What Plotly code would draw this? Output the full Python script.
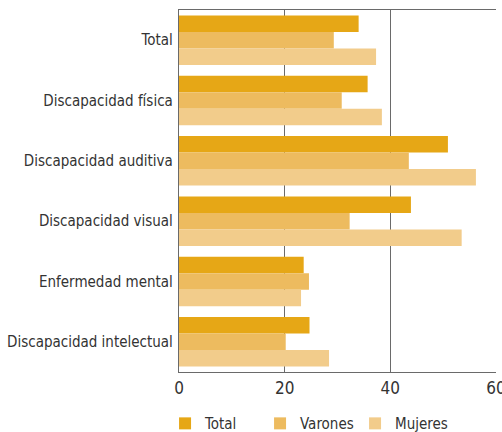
import plotly.graph_objects as go

categories = ["Total", "Discapacidad física", "Discapacidad auditiva",
              "Discapacidad visual", "Enfermedad mental", "Discapacidad intelectual"]
total = [34.0, 35.7, 50.9, 43.9, 23.6, 24.7]
varones = [29.3, 30.8, 43.5, 32.3, 24.6, 20.2]
mujeres = [37.3, 38.4, 56.2, 53.5, 23.1, 28.4]
x_ticks = [0, 20, 40, 60]

FONT = "DejaVu Sans Condensed, Roboto, sans-serif"
series = [("Total", total, "#E6A716"), ("Varones", varones, "#EDBB5F"), ("Mujeres", mujeres, "#F2CC8B")]

fig = go.Figure()
for name, vals, col in series:
    fig.add_trace(go.Bar(y=categories, x=vals, name=name, orientation="h",
                         marker=dict(color=col, line=dict(width=0))))

fig.update_layout(
    width=502, height=432,
    margin=dict(l=179, r=6, t=10, b=60, autoexpand=False),
    barmode="group", bargap=0.18, bargroupgap=0,
    plot_bgcolor="white", paper_bgcolor="white",
    font=dict(family=FONT, size=15, color="#333333"),
    showlegend=True,
    legend=dict(orientation="h", x=-0.044, y=-0.097, xanchor="left", yanchor="top",
                entrywidth=50, font=dict(size=15)),
    xaxis=dict(range=[0, 60], tickvals=x_ticks, showgrid=True, gridcolor="#6a6a6a", gridwidth=1.3,
               showline=True, linecolor="#6a6a6a", linewidth=1.3, mirror=True,
               zeroline=False, ticks="", ticklen=0, automargin=False,
               ticklabeloverflow="allow", tickfont=dict(size=17)),
    yaxis=dict(autorange="reversed", showline=True, linecolor="#6a6a6a", linewidth=1.3,
               ticks="", ticklabelstandoff=2, showgrid=False, automargin=False),
)

fig.write_html("out.html", config={"displayModeBar": False},
               post_script="document.body.style.margin='0';")
